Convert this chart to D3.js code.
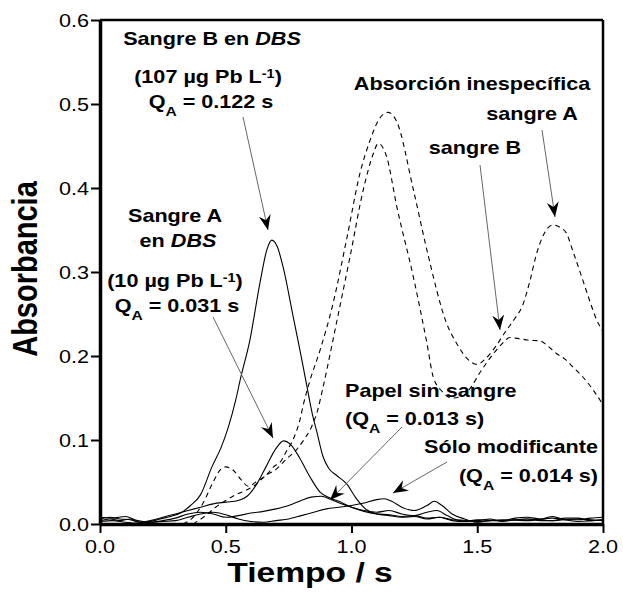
<!DOCTYPE html>
<html><head><meta charset="utf-8">
<script src="https://cdn.jsdelivr.net/npm/d3@7"></script>
<style>body{margin:0;background:#fff}svg{display:block}</style>
</head><body>
<svg id="chart" width="623" height="597"></svg>
<script>
// ---------- DATA ----------
const xTicks = [0.0, 0.5, 1.0, 1.5, 2.0];
const yTicks = [0.0, 0.1, 0.2, 0.3, 0.4, 0.5, 0.6];

// Sangre B en DBS (solid, large peak)
const tSangreB = [0.0,0.04,0.08,0.12,0.16,0.2,0.24,0.28,0.32,0.36,0.40,0.445,0.48,0.51,0.54,0.557,0.596,0.636,0.663,0.683,0.705,0.728,0.768,0.795,0.822,0.845,0.862,0.887,0.91,0.94,0.98,1.02,1.06,1.1,1.15,1.2,1.25,1.3,1.35,1.4,1.45,1.5,1.6,1.7,1.8,1.9,2.0];
const aSangreB = [0.004,0.006,0.004,0.006,0.002,0.003,0.006,0.009,0.013,0.022,0.035,0.068,0.09,0.115,0.148,0.171,0.219,0.287,0.326,0.338,0.33,0.306,0.247,0.207,0.165,0.13,0.11,0.08,0.066,0.058,0.048,0.03,0.017,0.012,0.01,0.008,0.009,0.006,0.008,0.004,0.003,0.005,0.004,0.006,0.004,0.006,0.004];

// Sangre A en DBS (solid, small peak)
const tSangreA = [0.0,0.04,0.08,0.12,0.16,0.2,0.25,0.3,0.35,0.4,0.45,0.5,0.55,0.585,0.62,0.66,0.70,0.73,0.76,0.795,0.835,0.875,0.915,0.95,1.0,1.05,1.1,1.15,1.2,1.25,1.3,1.35,1.4,1.5,1.6,1.7,1.8,1.9,2.0];
const aSangreA = [0.006,0.008,0.006,0.005,0.002,0.004,0.008,0.012,0.016,0.02,0.024,0.026,0.028,0.033,0.046,0.068,0.09,0.099,0.094,0.078,0.056,0.038,0.031,0.027,0.02,0.015,0.012,0.011,0.009,0.01,0.007,0.008,0.005,0.003,0.005,0.004,0.007,0.003,0.005];

// Papel sin sangre (solid)
const tPapel = [0.0,0.05,0.1,0.15,0.2,0.25,0.3,0.35,0.4,0.45,0.5,0.55,0.6,0.65,0.7,0.75,0.8,0.84,0.88,0.92,0.96,1.0,1.05,1.1,1.15,1.2,1.25,1.3,1.34,1.38,1.42,1.5,1.55,1.6,1.65,1.7,1.75,1.8,1.85,1.9,1.95,2.0];
const aPapel = [0.008,0.007,0.009,0.004,0.002,0.004,0.007,0.012,0.014,0.012,0.008,0.01,0.013,0.015,0.018,0.022,0.028,0.032,0.033,0.029,0.024,0.02,0.016,0.014,0.016,0.012,0.01,0.014,0.016,0.01,0.005,0.004,0.006,0.003,0.005,0.006,0.004,0.004,0.007,0.007,0.004,0.005];

// Sólo modificante (solid)
const tModif = [0.0,0.05,0.1,0.15,0.2,0.25,0.3,0.35,0.4,0.45,0.5,0.55,0.6,0.65,0.7,0.75,0.8,0.85,0.9,0.95,1.0,1.05,1.1,1.13,1.16,1.2,1.25,1.3,1.33,1.36,1.4,1.45,1.5,1.55,1.6,1.65,1.7,1.75,1.8,1.85,1.9,1.95,2.0];
const aModif = [0.003,0.004,0.002,0.001,0.002,0.003,0.004,0.008,0.012,0.014,0.011,0.006,0.003,0.002,0.004,0.006,0.01,0.014,0.018,0.02,0.022,0.025,0.029,0.03,0.027,0.02,0.016,0.022,0.027,0.022,0.012,0.006,0.002,0.004,0.004,0.007,0.008,0.006,0.009,0.005,0.005,0.007,0.008];

// Absorción inespecífica sangre A (dashed)
const tFondoA = [0.33,0.37,0.41,0.45,0.48,0.50,0.53,0.56,0.59,0.62,0.66,0.69,0.72,0.74,0.77,0.795,0.81,0.835,0.875,0.927,0.98,1.034,1.074,1.11,1.145,1.18,1.246,1.3,1.378,1.42,1.46,1.50,1.53,1.57,1.61,1.65,1.68,1.71,1.736,1.76,1.80,1.83,1.855,1.88,1.91,1.94,1.975,2.0];
const aFondoA = [0.0,0.008,0.025,0.05,0.065,0.068,0.064,0.053,0.045,0.05,0.058,0.068,0.075,0.086,0.102,0.124,0.144,0.171,0.207,0.263,0.338,0.418,0.457,0.482,0.49,0.479,0.398,0.326,0.239,0.214,0.197,0.19,0.196,0.21,0.228,0.245,0.26,0.29,0.322,0.342,0.356,0.353,0.346,0.325,0.299,0.272,0.243,0.229];

// Absorción inespecífica sangre B (dashed)
const tFondoB = [0.37,0.42,0.46,0.50,0.54,0.58,0.62,0.66,0.70,0.74,0.78,0.81,0.84,0.865,0.887,0.94,0.994,1.047,1.087,1.106,1.125,1.14,1.18,1.246,1.3,1.325,1.36,1.40,1.44,1.48,1.51,1.54,1.57,1.6,1.63,1.66,1.70,1.75,1.78,1.815,1.85,1.88,1.92,1.96,2.0];
const aFondoB = [0.0,0.01,0.02,0.028,0.035,0.04,0.047,0.058,0.065,0.077,0.088,0.1,0.115,0.135,0.163,0.239,0.318,0.398,0.441,0.453,0.448,0.437,0.378,0.294,0.215,0.175,0.158,0.15,0.152,0.165,0.18,0.193,0.205,0.215,0.222,0.221,0.219,0.218,0.212,0.203,0.196,0.187,0.175,0.16,0.142];

// ---------- DRAW ----------
const SX = 1.2; // horizontal text stretch seen in the reference
const FONT = "'Liberation Sans', Arial, Helvetica, sans-serif";
const svg = d3.select("#chart").attr("font-family", FONT);
const x = d3.scaleLinear().domain([0, 2]).range([100, 603]);
const y = d3.scaleLinear().domain([0, 0.6]).range([524, 20]);

const defs = svg.append("defs");
defs.append("marker").attr("id", "ah").attr("markerUnits", "userSpaceOnUse")
  .attr("viewBox", "-16 -7 18 14").attr("refX", 0).attr("refY", 0)
  .attr("markerWidth", 18).attr("markerHeight", 14).attr("orient", "auto")
  .append("path").attr("d", "M0,0 L-15,-6 L-10,0 L-15,6 Z").attr("fill", "#000");

const line = d3.line().x(d => x(d[0])).y(d => y(d[1])).curve(d3.curveMonotoneX);
function series(ts, as, dashed) {
  svg.append("path").datum(ts.map((t, i) => [t, as[i]]))
    .attr("d", line).attr("fill", "none").attr("stroke", "#000")
    .attr("stroke-width", 1.1)
    .attr("stroke-dasharray", dashed ? "5,4" : null);
}
series(tModif, aModif, false);
series(tPapel, aPapel, false);
series(tSangreA, aSangreA, false);
series(tSangreB, aSangreB, false);
series(tFondoA, aFondoA, true);
series(tFondoB, aFondoB, true);

// frame
svg.append("line").attr("x1", 100).attr("x2", 603).attr("y1", 20).attr("y2", 20).attr("stroke", "#000").attr("stroke-width", 2.5);
svg.append("line").attr("x1", 603).attr("x2", 603).attr("y1", 20).attr("y2", 524).attr("stroke", "#000").attr("stroke-width", 2.5);

// axes
const yAxis = svg.append("g").attr("transform", "translate(100,0)")
  .call(d3.axisLeft(y).tickValues(yTicks).tickFormat(d3.format(".1f")).tickSize(9).tickSizeOuter(0).tickPadding(3));
const xAxis = svg.append("g").attr("transform", "translate(0,524)")
  .call(d3.axisBottom(x).tickValues(xTicks).tickFormat(d3.format(".1f")).tickSize(9).tickSizeOuter(0).tickPadding(3));
[yAxis, xAxis].forEach(g => {
  g.select(".domain").attr("stroke-width", 3.5).attr("stroke", "#000");
  g.selectAll(".tick line").attr("stroke-width", 2).attr("stroke", "#000");
  g.selectAll(".tick text").remove();
});
// tick labels (stretched)
yTicks.forEach(v => {
  svg.append("g").attr("transform", `translate(89,${y(v) + 6.5}) scale(${SX},1)`)
    .append("text").attr("text-anchor", "end").attr("font-size", 18).attr("fill", "#000")
    .text(d3.format(".1f")(v));
});
xTicks.forEach(v => {
  svg.append("g").attr("transform", `translate(${x(v)},553) scale(${SX},1)`)
    .append("text").attr("text-anchor", "middle").attr("font-size", 18).attr("fill", "#000")
    .text(d3.format(".1f")(v));
});

// axis titles
svg.append("g").attr("transform", `translate(310,582) scale(${SX},1)`)
  .append("text").attr("text-anchor", "middle").attr("font-size", 28).attr("font-weight", "bold").text("Tiempo / s");
svg.append("g").attr("transform", `translate(37,269) scale(${SX},1) rotate(-90)`)
  .append("text").attr("text-anchor", "middle").attr("font-size", 29).attr("font-weight", "bold").text("Absorbancia");

// annotations
function label(px, py, anchor, parts) {
  const t = svg.append("g").attr("transform", `translate(${px},${py}) scale(${SX},1)`)
    .append("text").attr("text-anchor", anchor).attr("font-size", 18).attr("font-weight", "bold");
  parts.forEach(p => {
    const s = t.append("tspan").text(p.t);
    if (p.i) s.attr("font-style", "italic");
    if (p.dy) s.attr("dy", p.dy);
    if (p.fs) s.attr("font-size", p.fs);
  });
}
const SUB = (s) => [{t: s, dy: 8, fs: 13}];
const SUP = (s) => [{t: s, dy: -5, fs: 12}];
label(212, 45, "middle", [{t: "Sangre B en "}, {t: "DBS", i: true}]);
label(208, 83, "middle", [{t: "(107 µg Pb L"}, ...SUP("-1"), {t: ")", dy: 5}]);
label(211, 108, "middle", [{t: "Q"}, ...SUB("A"), {t: " = 0.122 s", dy: -8}]);
label(175, 222, "middle", [{t: "Sangre A"}]);
label(178, 247, "middle", [{t: "en "}, {t: "DBS", i: true}]);
label(175, 287, "middle", [{t: "(10 µg Pb L"}, ...SUP("-1"), {t: ")", dy: 5}]);
label(177, 312, "middle", [{t: "Q"}, ...SUB("A"), {t: " = 0.031 s", dy: -8}]);
label(472, 90, "middle", [{t: "Absorción inespecífica"}]);
label(532, 120, "middle", [{t: "sangre A"}]);
label(475, 154, "middle", [{t: "sangre B"}]);
label(345, 397, "start", [{t: "Papel sin sangre"}]);
label(345, 425, "start", [{t: "(Q"}, ...SUB("A"), {t: " = 0.013 s)", dy: -8}]);
label(598, 453, "end", [{t: "Sólo modificante"}]);
label(598, 482, "end", [{t: "(Q"}, ...SUB("A"), {t: " = 0.014 s)", dy: -8}]);

// arrows
const arrows = [
  [243, 117, 268, 230],
  [213, 317, 273, 438],
  [542, 130, 555, 217],
  [480, 165, 500, 330],
  [402, 427, 330, 500],
  [447, 462, 393, 493]
];
arrows.forEach(a => {
  svg.append("line").attr("x1", a[0]).attr("y1", a[1]).attr("x2", a[2]).attr("y2", a[3])
    .attr("stroke", "#666").attr("stroke-width", 1).attr("marker-end", "url(#ah)");
});
</script>
</body></html>
